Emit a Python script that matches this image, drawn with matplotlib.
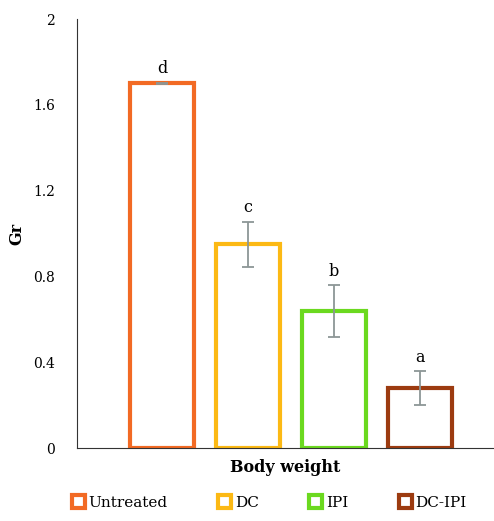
import matplotlib.pyplot as plt
from matplotlib.patches import Patch

# Data
groups = ['Untreated', 'DC', 'IPI', 'DC-IPI']
gr_values = [1.70, 0.95, 0.64, 0.28]
gr_errors = [0.003, 0.105, 0.12, 0.077]
sig_letters = ['d', 'c', 'b', 'a']
colors = ['#f26a24', '#fcb914', '#6bd91f', '#9c3b10']

plt.rcParams['font.family'] = ['DejaVu Serif']

fig = plt.figure(figsize=(4.94, 5.21), dpi=100)
ax = fig.add_axes([0.156, 0.140, 0.844, 0.8235])

x = range(len(groups))
ax.bar(x, gr_values, width=0.74, facecolor='white', edgecolor=colors,
       linewidth=3, zorder=2)
ax.errorbar(x, gr_values, yerr=gr_errors, fmt='none', ecolor='#8c9696',
            elinewidth=1.3, capsize=4, capthick=1.3, zorder=3)

# Significance letters above each bar
for i in x:
    ax.text(i, gr_values[i] + gr_errors[i] + 0.025, sig_letters[i],
            ha='center', va='bottom', fontsize=11.5)

ax.set_xlim(-0.99, 3.86)
ax.set_ylim(0, 2)
ax.set_yticks([0, 0.4, 0.8, 1.2, 1.6, 2])
ax.set_yticklabels(['0', '0.4', '0.8', '1.2', '1.6', '2'], fontsize=10)
ax.set_xticks([])
ax.tick_params(axis='y', length=0, pad=16)

for side in ['top', 'right']:
    ax.spines[side].set_visible(False)
ax.spines['left'].set_color('#333333')
ax.spines['bottom'].set_color('#333333')

ax.set_xlabel('Body weight', fontsize=11.5, fontweight='bold', labelpad=8)
ax.set_ylabel('Gr', fontsize=11.5, fontweight='bold')
ax.yaxis.set_label_coords(-0.125, 0.5)

handles = [Patch(facecolor='white', edgecolor=c, linewidth=3) for c in colors]
fig.legend(handles, groups, loc='lower center', bbox_to_anchor=(0.545, -0.005),
           ncol=4, frameon=False, fontsize=11, handlelength=0.85,
           handleheight=0.85, handletextpad=0.25, columnspacing=3.3)

fig.savefig('out.png', dpi=100)
